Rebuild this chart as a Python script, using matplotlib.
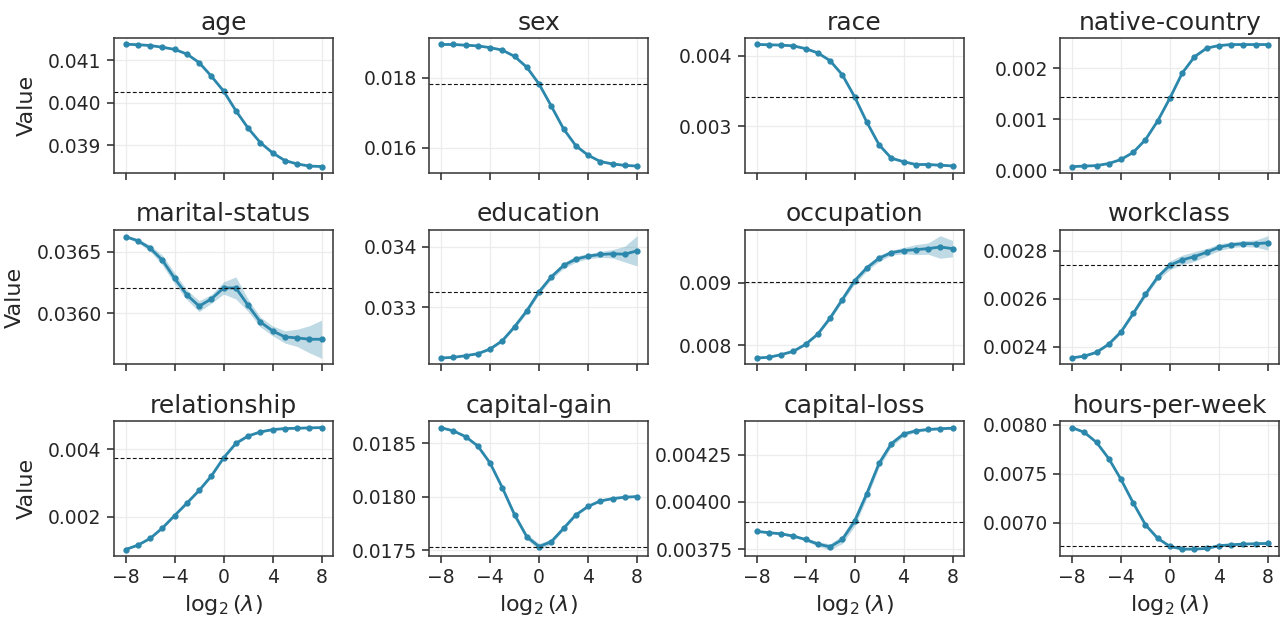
import numpy as np
import matplotlib
matplotlib.use("Agg")
import matplotlib.pyplot as plt
import seaborn as sns

sns.set_theme(style="ticks")
plt.rcParams["font.family"] = ["DejaVu Sans"]

log2_lambda = np.arange(-8, 9)

features = ["age", "sex", "race", "native-country",
            "marital-status", "education", "occupation", "workclass",
            "relationship", "capital-gain", "capital-loss", "hours-per-week"]

age = [0.04137, 0.04136, 0.04134, 0.04130, 0.04125, 0.04114, 0.04094, 0.04062, 0.04027,
       0.03981, 0.03940, 0.03906, 0.03882, 0.03864, 0.03856, 0.03851, 0.03850]
sex = [0.01895, 0.01895, 0.01893, 0.01891, 0.01886, 0.01879, 0.01861, 0.01830, 0.01782,
       0.01719, 0.01654, 0.01606, 0.01579, 0.01561, 0.01554, 0.01550, 0.01548]
race = [0.00416, 0.004155, 0.00415, 0.00414, 0.00410, 0.00404, 0.00393, 0.00373, 0.00342,
        0.00306, 0.00274, 0.00255, 0.00250, 0.00246, 0.00246, 0.00245, 0.00244]
native_country = [0.00007, 0.00008, 0.00009, 0.00013, 0.00021, 0.00035, 0.00060, 0.00097, 0.00142,
                  0.00191, 0.00223, 0.00240, 0.00245, 0.00247, 0.00247, 0.00247, 0.00247]
marital_status = [0.036624, 0.036591, 0.036530, 0.036433, 0.036285, 0.036151, 0.036059, 0.036118,
                  0.036207, 0.036207, 0.036065, 0.035930, 0.035858, 0.035809, 0.035801, 0.035790, 0.035790]
education = [0.032165, 0.032176, 0.032203, 0.032236, 0.032313, 0.032451, 0.032681, 0.032945, 0.033258,
             0.033505, 0.033692, 0.033797, 0.033846, 0.033874, 0.033885, 0.033879, 0.033934]
occupation = [0.007799, 0.007810, 0.007852, 0.007905, 0.008016, 0.008180, 0.008434, 0.008730, 0.009026,
              0.009233, 0.009386, 0.009476, 0.009508, 0.009524, 0.009540, 0.009566, 0.009540]
workclass = [0.002353, 0.002360, 0.002376, 0.002410, 0.002461, 0.002538, 0.002618, 0.002690, 0.002739,
             0.002761, 0.002775, 0.002793, 0.002814, 0.002824, 0.002829, 0.002829, 0.002832]
relationship = [0.001040, 0.001168, 0.001366, 0.001673, 0.002040, 0.002406, 0.002782, 0.003208, 0.003743,
                0.004168, 0.004386, 0.004505, 0.004574, 0.004604, 0.004614, 0.004624, 0.004634]
capital_gain = [0.018646, 0.018617, 0.018563, 0.018475, 0.018316, 0.018085, 0.017832, 0.017627, 0.017535,
                0.017582, 0.017706, 0.017832, 0.017911, 0.017962, 0.017984, 0.017997, 0.018003]
capital_loss = [0.003844, 0.003837, 0.003831, 0.003819, 0.003801, 0.003777, 0.003762, 0.003801, 0.003897,
                0.004044, 0.004204, 0.004308, 0.004360, 0.004377, 0.004384, 0.004388, 0.004391]
hours_per_week = [0.007972, 0.007924, 0.007821, 0.007655, 0.007441, 0.007200, 0.006976, 0.006838, 0.006755,
                  0.006728, 0.006728, 0.006734, 0.006762, 0.006772, 0.006779, 0.006783, 0.006786]

# half-width of the uncertainty band around each curve
age_err = [3e-6, 3e-6, 3e-6, 4e-6, 5e-6, 8e-6, 1.5e-5, 2e-5, 2e-5, 2e-5, 2e-5, 1.5e-5, 1.2e-5, 1e-5, 8e-6, 6e-6, 6e-6]
sex_err = [1e-5, 1e-5, 1e-5, 1e-5, 1.5e-5, 2e-5, 3e-5, 4e-5, 5e-5, 5e-5, 5e-5, 4e-5, 3e-5, 2.5e-5, 2e-5, 2e-5, 2e-5]
race_err = [4e-6, 4e-6, 4e-6, 5e-6, 8e-6, 1.2e-5, 1.6e-5, 2e-5, 2.4e-5, 2.4e-5, 2.2e-5, 1.8e-5, 1.5e-5, 1.2e-5, 1.2e-5, 1.2e-5, 1.2e-5]
native_country_err = [3e-6, 3e-6, 3e-6, 4e-6, 5e-6, 8e-6, 1e-5, 1.5e-5, 1.8e-5, 1.8e-5, 1.5e-5, 1.2e-5, 1e-5, 8e-6, 8e-6, 8e-6, 8e-6]
marital_status_err = [8e-6, 1.5e-5, 2.5e-5, 4e-5, 4.5e-5, 4e-5, 4.5e-5, 3.5e-5, 5e-5, 9e-5, 5e-5, 4e-5, 4e-5, 5e-5, 7e-5, 1.1e-4, 1.55e-4]
education_err = [5e-6, 5e-6, 8e-6, 1e-5, 1.5e-5, 2e-5, 3e-5, 4e-5, 4e-5, 4e-5, 5e-5, 5e-5, 4e-5, 5e-5, 7e-5, 1.3e-4, 2.5e-4]
occupation_err = [5e-6, 5e-6, 1e-5, 1e-5, 1.5e-5, 2e-5, 3e-5, 4e-5, 5e-5, 5e-5, 5e-5, 4e-5, 5e-5, 8e-5, 9e-5, 1.8e-4, 1.3e-4]
workclass_err = [2e-6, 3e-6, 4e-6, 5e-6, 6e-6, 8e-6, 1e-5, 1.2e-5, 1.8e-5, 2e-5, 2e-5, 1.6e-5, 1.4e-5, 1.2e-5, 1.2e-5, 1.5e-5, 3e-5]
relationship_err = [1e-5, 1e-5, 1.2e-5, 1.5e-5, 2e-5, 2.5e-5, 3e-5, 3e-5, 3e-5, 3e-5, 2.5e-5, 2e-5, 1.5e-5, 1.2e-5, 1e-5, 1e-5, 1e-5]
capital_gain_err = [5e-6, 5e-6, 8e-6, 1e-5, 1.5e-5, 2e-5, 2e-5, 2.5e-5, 3e-5, 2e-5, 1.5e-5, 1.2e-5, 1e-5, 8e-6, 6e-6, 6e-6, 6e-6]
capital_loss_err = [3e-6, 3e-6, 4e-6, 5e-6, 8e-6, 1.2e-5, 1.6e-5, 2.2e-5, 2.6e-5, 2.4e-5, 2e-5, 1.6e-5, 1.2e-5, 8e-6, 6e-6, 5e-6, 5e-6]
hours_per_week_err = [4e-6, 5e-6, 6e-6, 8e-6, 1e-5, 1.2e-5, 1.2e-5, 1e-5, 8e-6, 8e-6, 8e-6, 6e-6, 5e-6, 5e-6, 5e-6, 5e-6, 5e-6]

# reference level drawn as a dashed horizontal line
baselines = [0.04026, 0.01782, 0.00341, 0.00143,
             0.036204, 0.033247, 0.009011, 0.002739,
             0.003733, 0.017532, 0.003892, 0.006762]

ytick_values = [
    [0.039, 0.040, 0.041], [0.016, 0.018], [0.003, 0.004], [0.000, 0.001, 0.002],
    [0.0360, 0.0365], [0.033, 0.034], [0.008, 0.009], [0.0024, 0.0026, 0.0028],
    [0.002, 0.004], [0.0175, 0.0180, 0.0185], [0.00375, 0.00400, 0.00425], [0.0070, 0.0075, 0.0080],
]
ytick_labels = [
    ["0.039", "0.040", "0.041"], ["0.016", "0.018"], ["0.003", "0.004"], ["0.000", "0.001", "0.002"],
    ["0.0360", "0.0365"], ["0.033", "0.034"], ["0.008", "0.009"], ["0.0024", "0.0026", "0.0028"],
    ["0.002", "0.004"], ["0.0175", "0.0180", "0.0185"], ["0.00375", "0.00400", "0.00425"],
    ["0.0070", "0.0075", "0.0080"],
]
xtick_values = [-8, -4, 0, 4, 8]

series = [age, sex, race, native_country, marital_status, education, occupation, workclass,
          relationship, capital_gain, capital_loss, hours_per_week]
errors = [age_err, sex_err, race_err, native_country_err, marital_status_err, education_err,
          occupation_err, workclass_err, relationship_err, capital_gain_err, capital_loss_err,
          hours_per_week_err]

line_color = "#2b87ab"
text_color = "#262626"

fig, axes = plt.subplots(3, 4, figsize=(12.84, 6.21), dpi=100, sharex=True)
fig.subplots_adjust(left=0.0888, right=0.9961, top=0.9388, bottom=0.1047, wspace=0.443, hspace=0.42)

for i, ax in enumerate(axes.flat):
    y = np.array(series[i])
    e = np.array(errors[i])
    ax.grid(True, color="#ececec", linewidth=0.9, zorder=0)
    ax.fill_between(log2_lambda, y - e, y + e, color=line_color, alpha=0.3, linewidth=0, zorder=2)
    ax.plot(log2_lambda, y, color=line_color, linewidth=2, marker="o", markersize=3.5, zorder=3)
    ax.axhline(baselines[i], color="#111111", linestyle="--", linewidth=0.8, dashes=(3.5, 2), zorder=4)
    ax.set_title(features[i], fontsize=18, color=text_color, pad=6)
    ax.set_xticks(xtick_values)
    ax.set_xlim(-8.95, 8.9)
    ax.set_yticks(ytick_values[i])
    ax.set_yticklabels(ytick_labels[i])
    ax.tick_params(axis="both", labelsize=13.5, colors=text_color, length=5, width=1.1, pad=4)
    for s in ax.spines.values():
        s.set_color("#333333")
        s.set_linewidth(1.1)
    if i % 4 == 0:
        ax.set_ylabel("Value", fontsize=16, color=text_color, labelpad=8)
    if i >= 8:
        ax.set_xlabel(r"$\log_2(\lambda)$", fontsize=16, color=text_color)
        ax.tick_params(axis="x", labelbottom=True)

fig.savefig("out.png", dpi=100)
